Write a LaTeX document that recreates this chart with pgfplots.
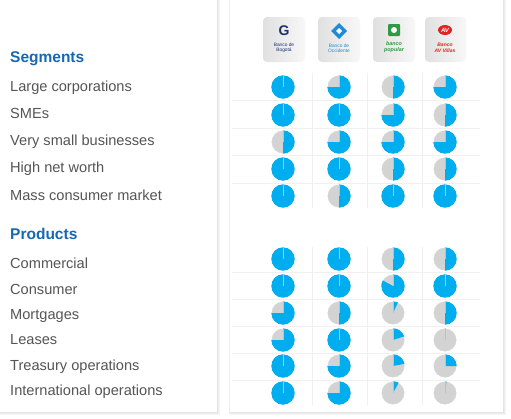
\documentclass[border=0pt]{standalone}
\usepackage{pgfplots}
\pgfplotsset{compat=1.18}
\usepackage{pgfplotstable}
\usepackage{fontspec}
\setmainfont{Liberation Sans}
\definecolor{pieblue}{HTML}{00AEEF}
\definecolor{piegray}{HTML}{D3D3D3}
\definecolor{txtgray}{HTML}{555555}
\definecolor{hdrblue}{HTML}{1767B3}
\definecolor{gridc}{HTML}{F0F0F0}
\definecolor{bogota}{HTML}{1C2F6B}
\definecolor{occid}{HTML}{1E8BD6}
\definecolor{popular}{HTML}{2E9A44}
\definecolor{avvillas}{HTML}{E02424}

% Harvey balls: x = column centre, y = row centre (pixels from top), f = filled share
\pgfplotstableread{
x   y   f
283 87  1
339 87  0.75
393 87  0.5
445 87  0.75
283 115 1
339 115 1
393 115 0.75
445 115 0.5
283 142 0.5
339 142 0.75
393 142 0.75
445 142 0.75
283 169 1
339 169 1
393 169 0.5
445 169 0.5
283 196 1
339 196 0.5
393 196 1
445 196 1
283 259 1
339 259 1
393 259 0.5
445 259 0.5
283 286 1
339 286 1
393 286 0.83
445 286 1
283 313 0.75
339 313 0.5
393 313 0.07
445 313 0.5
283 340 0.75
339 340 1
393 340 0.2
445 340 0.01
283 366 1
339 366 0.75
393 366 0.22
445 366 0.25
283 393 1
339 393 0.75
393 393 0.08
445 393 0.02
}\pies

\tikzset{
  gl/.style={gridc, line width=0.7pt},
  logobox/.style={left color=black!12, right color=black!3, rounded corners=4pt},
}

\begin{document}
\begin{tikzpicture}
\begin{axis}[
  width=511pt, height=418pt, scale only axis,
  xmin=0, xmax=511, ymin=0, ymax=418, y dir=reverse,
  axis lines=none, clip=false,
]
% background and panels with soft shadow
\fill[white] (axis cs:0,0) rectangle (axis cs:511,418);
\fill[black!4] (axis cs:0,0) rectangle (axis cs:220,415);
\fill[black!4] (axis cs:229,0) rectangle (axis cs:506,415);
\fill[black!7] (axis cs:0,0) rectangle (axis cs:219,414);
\fill[black!7] (axis cs:229.4,0) rectangle (axis cs:505,414);
\fill[black!10] (axis cs:0,0) rectangle (axis cs:218,413);
\fill[black!10] (axis cs:229.7,0) rectangle (axis cs:504,413);
\fill[white] (axis cs:0,0) rectangle (axis cs:217,412);
\fill[white] (axis cs:230,0) rectangle (axis cs:503,412);

% grid lines
\draw[gl] (axis cs:232,100) -- (axis cs:480,100);
\draw[gl] (axis cs:232,128) -- (axis cs:480,128);
\draw[gl] (axis cs:232,155) -- (axis cs:480,155);
\draw[gl] (axis cs:232,183) -- (axis cs:480,183);
\draw[gl] (axis cs:232,272) -- (axis cs:480,272);
\draw[gl] (axis cs:232,299) -- (axis cs:480,299);
\draw[gl] (axis cs:232,326) -- (axis cs:480,326);
\draw[gl] (axis cs:232,353) -- (axis cs:480,353);
\draw[gl] (axis cs:232,380) -- (axis cs:480,380);
\draw[gl] (axis cs:312,73) -- (axis cs:312,208);
\draw[gl] (axis cs:367,73) -- (axis cs:367,208);
\draw[gl] (axis cs:422,73) -- (axis cs:422,208);
\draw[gl] (axis cs:312,247) -- (axis cs:312,405);
\draw[gl] (axis cs:367,247) -- (axis cs:367,405);
\draw[gl] (axis cs:422,247) -- (axis cs:422,405);

% logos
\shade[logobox] (axis cs:263,17) rectangle (axis cs:305,62);
\shade[logobox] (axis cs:318,17) rectangle (axis cs:360,62);
\shade[logobox] (axis cs:373,17) rectangle (axis cs:415,62);
\shade[logobox] (axis cs:425,17) rectangle (axis cs:466,62);
% Bogota
\node[bogota, font=\fontsize{14}{14}\selectfont\bfseries] at (axis cs:284,31) {G};
\node[bogota, font=\fontsize{4.8}{5.4}\selectfont, align=center] at (axis cs:284,48) {Banco de\\Bogotá};
% Occidente
\fill[occid] (axis cs:339,23) -- (axis cs:347,31) -- (axis cs:339,39) -- (axis cs:331,31) -- cycle;
\fill[white] (axis cs:339,28) -- (axis cs:342,31) -- (axis cs:339,34) -- (axis cs:336,31) -- cycle;
\node[occid, font=\fontsize{4.8}{5.4}\selectfont, align=center] at (axis cs:339,48) {Banco de\\Occidente};
% Popular
\fill[popular, rounded corners=1pt] (axis cs:388,24) rectangle (axis cs:400,36);
\fill[white] (axis cs:394,30) circle (3pt);
\node[popular, font=\fontsize{5.4}{6}\selectfont\bfseries\itshape, align=center] at (axis cs:394,47) {banco\\popular};
% AV Villas
\fill[avvillas] (axis cs:445,30) ellipse (7pt and 5pt);
\node[white, font=\fontsize{6}{6}\selectfont\bfseries\itshape] at (axis cs:445,30) {AV};
\node[avvillas, font=\fontsize{5}{5.6}\selectfont\bfseries\itshape, align=center] at (axis cs:445,48) {Banco\\AV Villas};

% left labels (baseline positions)
\begin{scope}[every node/.style={anchor=base west, inner sep=0pt, txtgray, font=\fontsize{14.6}{15}\selectfont}]
\node[hdrblue, font=\fontsize{15.5}{16}\selectfont\bfseries] at (axis cs:10,62.5) {Segments};
\node at (axis cs:10,91) {Large corporations};
\node at (axis cs:10,118) {SMEs};
\node at (axis cs:10,145) {Very small businesses};
\node at (axis cs:10,172) {High net worth};
\node at (axis cs:10,200) {Mass consumer market};
\node[hdrblue, font=\fontsize{15.5}{16}\selectfont\bfseries] at (axis cs:10,239.5) {Products};
\node at (axis cs:10,268) {Commercial};
\node at (axis cs:10,294) {Consumer};
\node at (axis cs:10,319) {Mortgages};
\node at (axis cs:10,344) {Leases};
\node at (axis cs:10,370) {Treasury operations};
\node at (axis cs:10,395) {International operations};
\end{scope}

% Harvey balls
\addplot[scatter, only marks, mark=*, mark size=11.2pt,
  point meta=\thisrow{f},
  visualization depends on={\thisrow{f} \as \pf},
  scatter/@pre marker code/.code={%
    \pgfsetfillcolor{piegray}\pgfsetstrokecolor{piegray}},
  scatter/@post marker code/.code={%
    \pgfmathsetmacro\endang{90-360*\pf}%
    \pgfpathmoveto{\pgfpointorigin}%
    \pgfpathlineto{\pgfpoint{0pt}{11.7pt}}%
    \pgfpatharc{90}{\endang}{11.7pt}%
    \pgfpathclose
    \pgfsetfillcolor{pieblue}%
    \pgfusepath{fill}%
    \pgfsetstrokecolor{white!50!pieblue}\pgfsetlinewidth{0.3pt}%
    \pgfpathmoveto{\pgfpointorigin}%
    \pgfpathlineto{\pgfpoint{0pt}{11.7pt}}%
    \pgfusepath{stroke}%
  },
] table[x=x, y=y] {\pies};
\end{axis}
\end{tikzpicture}
\end{document}
